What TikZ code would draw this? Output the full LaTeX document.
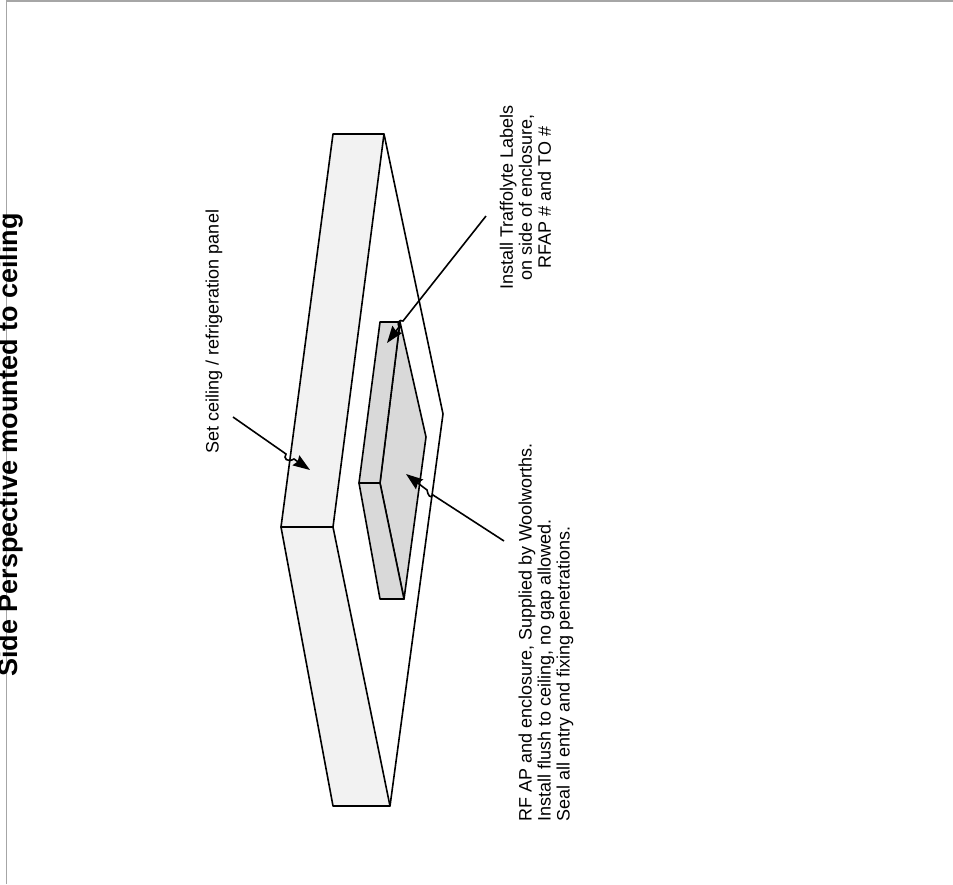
\documentclass[tikz,border=0pt]{standalone}
\usepackage{fontspec}
\setmainfont{Liberation Sans}
\usetikzlibrary{arrows.meta}
\tikzset{
  x=1pt,y=-1pt,
  edge/.style={draw=black,line width=1.6pt,line join=round},
  strip/.style={edge,fill=black!5},
  box/.style={edge,fill=black!15},
  frameline/.style={draw=black!35,line width=1.3pt},
  leader/.style={draw=black,line width=1.6pt,-{Stealth[length=17pt,width=12pt,inset=2pt]}},
  note/.style={rotate=90,inner sep=0pt,font=\fontsize{18}{19}\selectfont},
  title/.style={rotate=90,inner sep=0pt,font=\fontsize{27}{30}\selectfont\bfseries}
}
\begin{document}
\begin{tikzpicture}
\useasboundingbox (0,0) rectangle (953,884);
% frame
\coordinate (fa) at (953,1);
\coordinate (fb) at (6.5,1);
\coordinate (fc) at (6.5,884);
\draw[frameline] (fa) -- (fb) -- (fc);
% ceiling
\coordinate (ot) at (333,134);
\coordinate (otr) at (384,134);
\coordinate (ol) at (281,527);
\coordinate (oi) at (333,527);
\coordinate (ob) at (333,806);
\coordinate (obr) at (390,806);
\coordinate (otip) at (443,414);
\draw[edge,fill=white] (otr) -- (otip) -- (obr);
\draw[strip] (ot) -- (otr) -- (oi) -- (ol) -- cycle;
\draw[strip] (ol) -- (oi) -- (obr) -- (ob) -- cycle;
% enclosure
\coordinate (et) at (380,322);
\coordinate (etr) at (400,322);
\coordinate (el) at (359,483);
\coordinate (ei) at (380,483);
\coordinate (eb) at (380,599);
\coordinate (ebr) at (404,599);
\coordinate (etip) at (426,437);
\draw[box] (etr) -- (etip) -- (ebr) -- (ei) -- cycle;
\draw[box] (et) -- (etr) -- (ei) -- (el) -- cycle;
\draw[box] (el) -- (ei) -- (ebr) -- (eb) -- cycle;
% leaders
\coordinate (a1) at (233,417);
\coordinate (a1h) at (286,454);
\coordinate (a1k) at (294,459);
\coordinate (a1e) at (310,470);
\draw[leader] (a1) -- (a1h) .. controls (283,458) and (287,463) .. (a1k) -- (a1e);
\coordinate (a2) at (504,541);
\coordinate (a2h) at (433,495);
\coordinate (a2k) at (427,490);
\coordinate (a2e) at (406,474);
\draw[leader] (a2) -- (a2h) .. controls (430,499) and (428,495) .. (a2k) -- (a2e);
\coordinate (a3) at (486,216);
\coordinate (a3h) at (403,321);
\coordinate (a3k) at (399,327);
\coordinate (a3e) at (387,343);
\draw[leader] (a3) -- (a3h) .. controls (399,319) and (397,323) .. (a3k) -- (a3e);
% texts
\node[title,anchor=base] (ttl) at (17,445) {Side Perspective mounted to ceiling};
\node[note,anchor=center] (n1) at (214,331.5) {Set ceiling / refrigeration panel};
\node[note,anchor=center,align=center] (n2) at (525.5,197.5) {Install Traffolyte Labels\\on side of enclosure,\\RFAP \# and TO \#};
\node[note,anchor=center,align=left] (n3) at (546,632.5) {RF AP and enclosure, Supplied by Woolworths.\\Install flush to ceiling, no gap allowed.\\Seal all entry and fixing penetrations.};
\end{tikzpicture}
\end{document}
